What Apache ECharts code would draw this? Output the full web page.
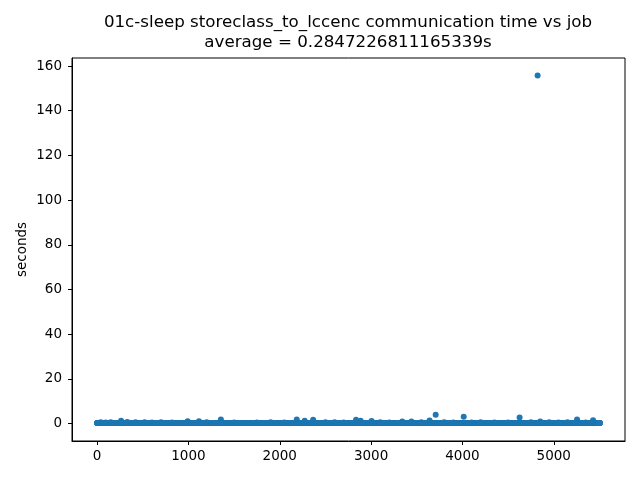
<!DOCTYPE html>
<html>
<head>
<meta charset="utf-8">
<script src="https://cdn.jsdelivr.net/npm/echarts@6/dist/echarts.min.js"></script>
<style>
  html, body { margin: 0; padding: 0; background: #fff; }
  #main { width: 640px; height: 480px; }
</style>
</head>
<body>
<div id="main"></div>
<script>
var titleLines = ['01c-sleep storeclass_to_lccenc communication time vs job',
                  'average = 0.2847226811165339s'];
var yName = 'seconds';
var xTicks = [0, 1000, 2000, 3000, 4000, 5000];
var yTicks = [0, 20, 40, 60, 80, 100, 120, 140, 160];

// runs of jobs sitting in the flat band near zero: [firstJob, lastJob, seconds]
var bandRuns = [
  [0, 5505, 0.22]
];

// jobs that stick out of the band: [job, seconds]
var spikes = [
  [262, 1.3], [991, 1.0], [1115, 1.0], [1355, 1.8], [2186, 1.8],
  [2273, 1.3], [2365, 1.7], [2835, 1.7], [2885, 1.3], [3005, 1.2],
  [3341, 0.9], [3441, 0.9], [3640, 1.4], [3707, 4.0], [4014, 3.1],
  [4626, 2.7], [4823, 155.8], [4852, 0.9], [5255, 1.8], [5430, 1.5]
];

// small bumps along the top edge of the band
var fuzz = [
  [40, 0.6], [95, 0.5], [150, 0.6], [330, 0.7], [420, 0.6], [520, 0.6],
  [600, 0.5], [700, 0.6], [820, 0.5], [1200, 0.6], [1500, 0.5], [1750, 0.5],
  [1900, 0.6], [2050, 0.5], [2500, 0.6], [2600, 0.6], [2700, 0.5], [3100, 0.6],
  [3200, 0.5], [3550, 0.6], [3800, 0.6], [3900, 0.5], [4100, 0.5], [4200, 0.6],
  [4350, 0.5], [4500, 0.5], [4750, 0.6], [4950, 0.6], [5050, 0.5], [5150, 0.6],
  [5350, 0.5]
];

var override = {};
fuzz.concat(spikes).forEach(function (p) { override[p[0]] = p[1]; });

var points = [];
bandRuns.forEach(function (r) {
  for (var j = r[0]; j <= r[1]; j++) {
    points.push([j, override[j] !== undefined ? override[j] : r[2]]);
  }
});

var myChart = echarts.init(document.getElementById('main'), null, {renderer: 'canvas'});

var axisCommon = {
  type: 'value',
  splitLine: {show: false},
  axisLine: {show: true, onZero: false, lineStyle: {color: '#000', width: 1}},
  axisTick: {show: true, inside: false, length: 4, lineStyle: {color: '#000'}},
  axisLabel: {
    color: '#000', fontSize: 13.5, fontFamily: 'DejaVu Sans',
    formatter: function (v) { return String(v); }
  }
};

var option = {
  animation: false,
  backgroundColor: '#fff',
  grid: {
    left: 72, right: 15, top: 58, bottom: 39,
    show: true, borderColor: '#000', borderWidth: 1
  },
  graphic: [{
    type: 'text',
    x: 348,
    y: 13,
    style: {
      text: titleLines.join('\n'),
      textAlign: 'center',
      textVerticalAlign: 'top',
      font: '16.7px "DejaVu Sans"',
      lineHeight: 20,
      fill: '#000'
    }
  }],
  xAxis: echarts.util.merge({
    min: -275,
    max: 5780,
    axisTick: {customValues: xTicks},
    axisLabel: {customValues: xTicks, margin: 8}
  }, axisCommon),
  yAxis: echarts.util.merge({
    min: -7.8,
    max: 163.6,
    name: yName,
    nameLocation: 'middle',
    nameRotate: 90,
    nameGap: 43,
    nameMoveOverlap: false,
    nameTextStyle: {color: '#000', fontSize: 13.5, fontFamily: 'DejaVu Sans'},
    axisTick: {customValues: yTicks},
    axisLabel: {customValues: yTicks, margin: 10}
  }, axisCommon),
  series: [{
    type: 'scatter',
    data: points,
    symbol: 'circle',
    symbolSize: 6,
    itemStyle: {color: '#1f77b4', opacity: 1},
    large: false
  }]
};
myChart.setOption(option);
</script>
</body>
</html>
